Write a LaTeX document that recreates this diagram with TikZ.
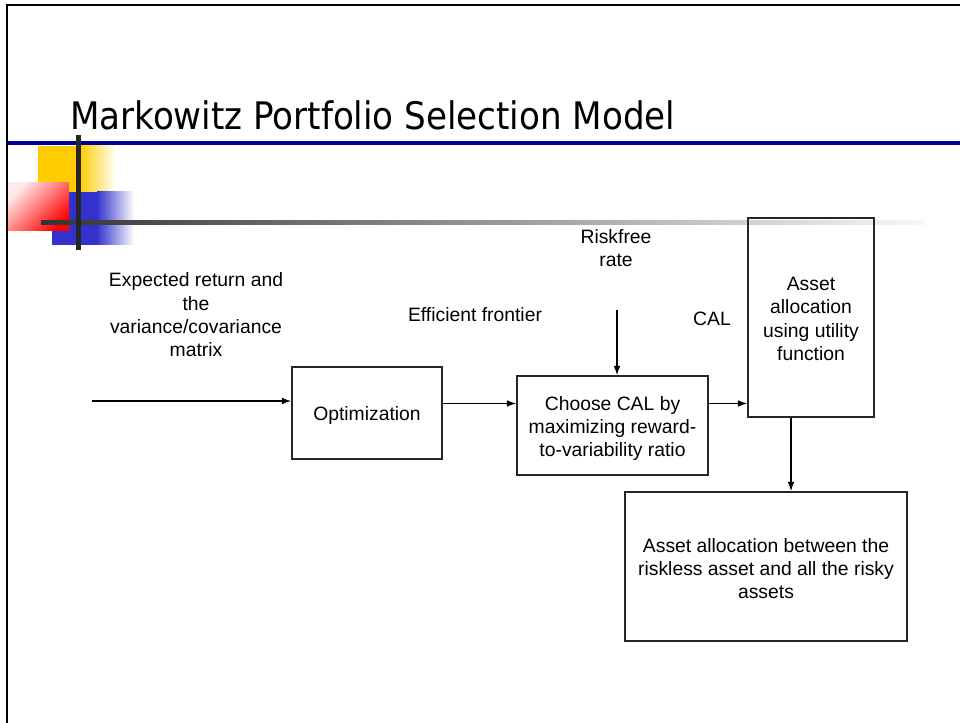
\documentclass[tikz,border=0pt]{standalone}
\usepackage{fontspec}
\usepackage{graphicx}
\setmainfont{Liberation Sans}
\newfontfamily\titlefont{DejaVu Sans Condensed}
\usetikzlibrary{arrows.meta,calc}
\definecolor{navyline}{RGB}{0,0,153}
\definecolor{sqyellow}{RGB}{255,204,0}
\definecolor{sqblue}{RGB}{51,51,204}
\definecolor{sqred}{RGB}{255,0,0}
\tikzset{
  box/.style={draw=black!85, line width=1.1pt, inner sep=0pt},
  lbl/.style={inner sep=0pt, align=center, font=\fontsize{14.5}{17.5}\selectfont},
  arr/.style={line width=1pt, -{Latex[length=7pt,width=5pt]}}
}
\begin{document}
\begin{tikzpicture}[x=0.75pt,y=-0.75pt]
\useasboundingbox (0,0) rectangle (960,723);
\fill[white] (0,0) rectangle (960,723);
% frame
\draw[line width=1.6pt] (7,723) -- (7,5) -- (960,5);
% title
\node[anchor=base west, inner sep=0pt] (title) at (70,130)
  {\resizebox{453.75pt}{!}{\titlefont Markowitz Portfolio Selection Model}};
% blue rule
\fill[navyline] (7,141) rectangle (960,145);
% decorative squares
\fill[sqyellow] (38,146) rectangle (80,192);
\shade[left color=sqyellow, right color=white] (80,146) rectangle (116,192);
\fill[sqblue] (52,192) rectangle (97,245);
\shade[left color=sqblue, right color=white] (97,192) rectangle (134,245);
\shade[left color=sqred!8, right color=sqred, shading angle=45] (8,183) rectangle (69,231);
\shade[left color=black!80, right color=black!3] (41,221) rectangle (925,224.5);
\fill[black!85] (76,135) rectangle (80.5,250);
% boxes
\node[box, minimum width=112.5pt, minimum height=69pt] (opt) at (367,413) {};
\node[box, minimum width=143.25pt, minimum height=74.25pt] (choose) at (612.5,425.5) {};
\node[box, minimum width=94.5pt, minimum height=149.25pt] (asset) at (811,317.5) {};
\node[box, minimum width=211.5pt, minimum height=111.75pt] (alloc) at (766,566.5) {};
% box texts
\node[lbl] (optT) at ($(opt.center)+(0,3)$) {Optimization};
\node[lbl] (chooseT) at ($(choose.center)+(0,3)$)
  {Choose CAL by\\maximizing reward-\\to-variability ratio};
\node[lbl] (assetT) at ($(asset.center)+(0,1.5)$)
  {Asset\\allocation\\using utility\\function};
\node[lbl] (allocT) at ($(alloc.center)+(0,2)$)
  {Asset allocation between the\\riskless asset and all the risky\\assets};
% labels
\node[lbl] (inp) at (196,315) {Expected return and\\the\\variance/covariance\\matrix};
\node[lbl] (eff) at (475,315) {Efficient frontier};
\node[lbl] (rf) at (616,248) {Riskfree\\rate};
\node[lbl] (cal) at (712,319) {CAL};
% connector helpers
\coordinate (inStart) at (92,401);
\coordinate (rfStart) at (617,310);
\coordinate (yA) at (0,403.5);
\coordinate (xA) at (791,0);
% connectors
\draw[arr] (inStart) -- (inStart -| opt.west);
\draw[arr] (opt.east |- yA) -- (choose.west |- yA);
\draw[arr] (rfStart) -- (rfStart |- choose.north);
\draw[arr] (choose.east |- yA) -- (asset.west |- yA);
\draw[arr] (asset.south -| xA) -- (alloc.north -| xA);
\end{tikzpicture}
\end{document}
